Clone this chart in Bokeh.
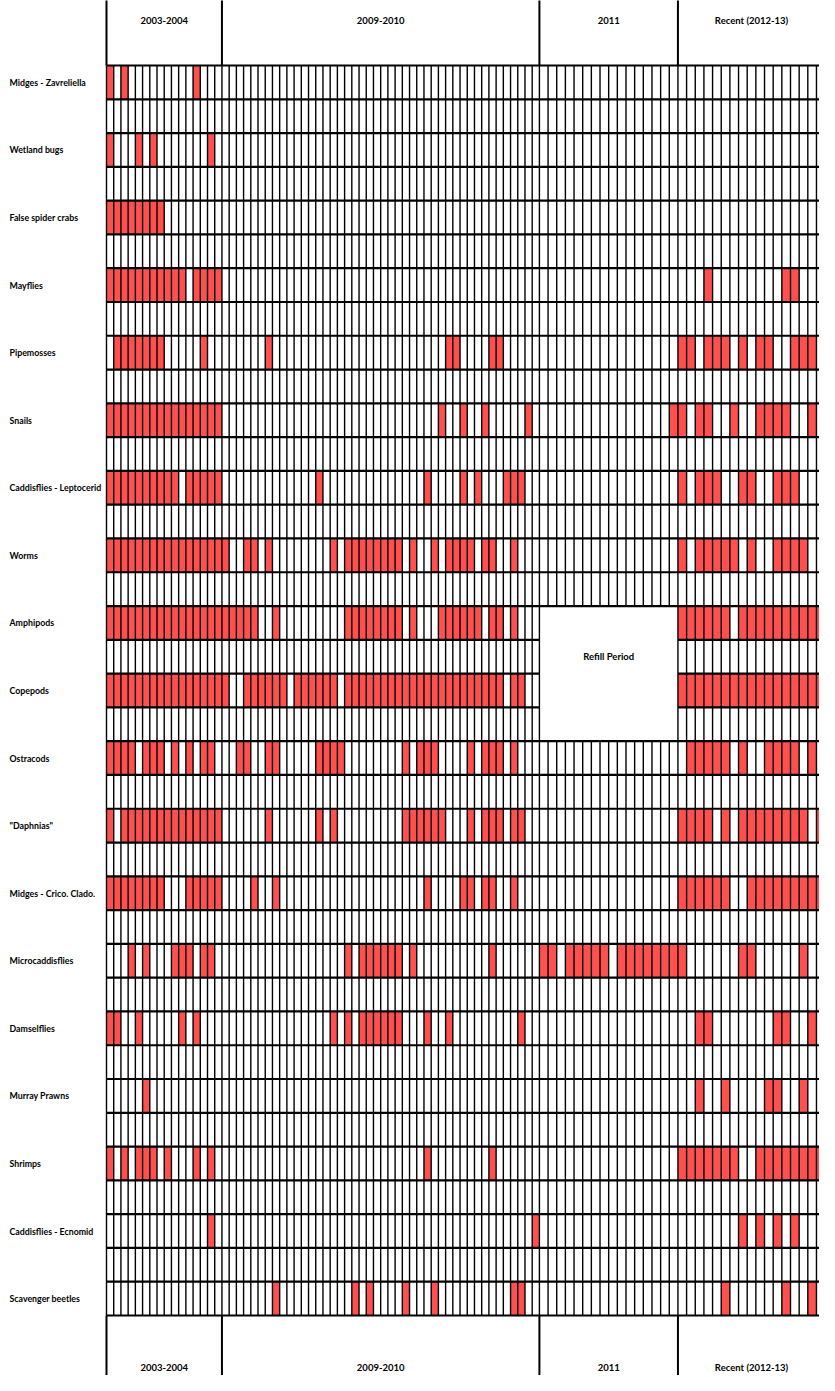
from bokeh.plotting import figure
from bokeh.models import Range1d
from bokeh.core.properties import value
from bokeh.embed import file_html
from bokeh.resources import INLINE

# ---------------- data ----------------
taxa = ["Midges - Zavreliella", "Wetland bugs", "False spider crabs", "Mayflies",
        "Pipemosses", "Snails", "Caddisflies - Leptocerid", "Worms", "Amphipods",
        "Copepods", "Ostracods", "\"Daphnias\"", "Midges - Crico. Clado.",
        "Microcaddisflies", "Damselflies", "Murray Prawns", "Shrimps",
        "Caddisflies - Ecnomid", "Scavenger beetles"]

periods = ["2003-2004", "2009-2010", "2011", "Recent (2012-13)"]
period_ncols = [16, 44, 16, 17]          # sampling columns per period
period_cell_w = [1.0, 1.0, 1.2, 1.2]     # relative column width per period

# detected (red) sampling columns, per taxon, index within each period
cells_2003_2004 = [
    [0, 2, 12],
    [0, 4, 6, 14],
    [0, 1, 2, 3, 4, 5, 6, 7],
    [0, 1, 2, 3, 4, 5, 6, 7, 8, 9, 10, 12, 13, 14, 15],
    [1, 2, 3, 4, 5, 6, 7, 13],
    [0, 1, 2, 3, 4, 5, 6, 7, 8, 9, 10, 11, 12, 13, 14, 15],
    [0, 1, 2, 3, 4, 5, 6, 7, 8, 9, 11, 12, 13, 14, 15],
    [0, 1, 2, 3, 4, 5, 6, 7, 8, 9, 10, 11, 12, 13, 14, 15],
    [0, 1, 2, 3, 4, 5, 6, 7, 8, 9, 10, 11, 12, 13, 14, 15],
    [0, 1, 2, 3, 4, 5, 6, 7, 8, 9, 10, 11, 12, 13, 14, 15],
    [0, 1, 2, 3, 5, 6, 7, 9, 11, 13, 14],
    [0, 2, 3, 4, 5, 6, 7, 8, 9, 10, 11, 12, 13, 14, 15],
    [0, 1, 2, 3, 4, 5, 6, 7, 11, 12, 13, 14, 15],
    [3, 5, 9, 10, 11, 13, 14],
    [0, 1, 4, 10, 12],
    [5],
    [0, 2, 4, 5, 6, 8, 12, 14],
    [14],
    [],
]

cells_2009_2010 = [
    [],
    [],
    [],
    [],
    [6, 31, 32, 37, 38],
    [30, 33, 36, 42],
    [13, 28, 33, 35, 39, 40, 41],
    [0, 3, 4, 6, 15, 17, 18, 19, 20, 21, 22, 23, 24, 26, 29, 31, 32, 33, 34, 36, 37, 40],
    [0, 1, 2, 3, 4, 7, 17, 18, 19, 20, 21, 22, 23, 24, 26, 30, 31, 32, 33, 34, 35, 37, 38, 40],
    [0, 3, 4, 5, 6, 7, 8, 10, 11, 12, 13, 14, 15, 17, 18, 19, 20, 21, 22, 23, 24, 25, 26,
     27, 28, 29, 30, 31, 32, 33, 34, 35, 36, 37, 38, 40, 41],
    [2, 3, 6, 7, 13, 14, 15, 16, 25, 27, 28, 29, 34, 36, 37, 38, 40],
    [6, 13, 15, 25, 26, 27, 28, 29, 30, 34, 36, 37, 38, 40, 41],
    [4, 7, 28, 33, 34, 36, 37, 40],
    [17, 19, 20, 21, 22, 23, 24, 26, 37],
    [15, 17, 19, 20, 21, 22, 23, 24, 28, 31, 41],
    [],
    [28, 37],
    [43],
    [7, 18, 20, 25, 29, 40, 41],
]

cells_2011 = [
    [], [], [], [], [],
    [15],
    [], [], [], [], [], [], [],
    [0, 1, 3, 4, 5, 6, 7, 9, 10, 11, 12, 13, 14, 15],
    [], [], [], [], [],
]

cells_recent = [
    [],
    [],
    [],
    [3, 12, 13],
    [0, 1, 3, 4, 5, 7, 9, 10, 13, 14, 15],
    [0, 2, 3, 6, 9, 10, 11, 12, 15],
    [0, 2, 3, 4, 7, 8, 11, 12, 13],
    [0, 2, 3, 4, 5, 6, 8, 11, 12, 13, 14],
    [0, 1, 2, 3, 4, 5, 7, 8, 9, 10, 11, 12, 13, 14, 15, 16],
    [0, 1, 2, 3, 4, 5, 6, 7, 8, 9, 10, 11, 12, 13, 14, 15, 16],
    [1, 2, 3, 4, 5, 7, 10, 11, 12, 13, 15],
    [0, 1, 2, 3, 5, 7, 8, 9, 10, 11, 12, 13, 14, 16],
    [0, 1, 2, 3, 4, 5, 8, 9, 10, 11, 12, 13, 14, 15, 16],
    [0, 7, 8, 14],
    [2, 3, 11, 12, 15],
    [2, 5, 10, 11, 14],
    [0, 1, 2, 3, 4, 5, 6, 9, 10, 11, 12, 13, 14, 15, 16],
    [7, 9, 11, 13],
    [5, 12, 15],
]

refill_label = "Refill Period"
refill_period = "2011"
refill_taxa = ["Amphipods", "Copepods"]

# ---------------- layout ----------------
W, H = 819, 1375
GRID_LEFT_PX = 106
GRID_TOP_PX = 65
ROW_PX = 1250 / 37
FOOT_PX = H - GRID_TOP_PX - 37 * ROW_PX
RED = "#FF5050"
FONT = value("Lato")
FS = "9.5px"
FS_TAXA = "8.8px"

period_start = []
acc = 0.0
for n, w in zip(period_ncols, period_cell_w):
    period_start.append(acc)
    acc += n * w
period_end = [s + n * w for s, n, w in zip(period_start, period_ncols, period_cell_w)]

x_end = period_start[3] + (period_ncols[3] - 0.65) * period_cell_w[3]
ppu = (W - GRID_LEFT_PX) / x_end
x_start = -GRID_LEFT_PX / ppu
n_rows = 2 * len(taxa) - 1
y_top = GRID_TOP_PX / ROW_PX
y_bot = -n_rows - FOOT_PX / ROW_PX

p = figure(width=W, height=H, x_range=Range1d(x_start, x_end), y_range=Range1d(y_bot, y_top),
           output_backend="svg", toolbar_location=None, min_border=0,
           x_axis_type=None, y_axis_type=None, outline_line_color=None,
           background_fill_color="white", border_fill_color="white")
p.grid.visible = False

# red cells
all_cells = [cells_2003_2004, cells_2009_2010, cells_2011, cells_recent]
L, R, T, B = [], [], [], []
for pi, cells in enumerate(all_cells):
    w = period_cell_w[pi]
    for t, cols in enumerate(cells):
        for c in cols:
            L.append(period_start[pi] + c * w)
            R.append(period_start[pi] + (c + 1) * w)
            T.append(-2 * t)
            B.append(-2 * t - 1)
p.quad(left=L, right=R, top=T, bottom=B, fill_color=RED, line_color=None)

# refill box extent (rows)
ri = periods.index(refill_period)
r_top = -2 * taxa.index(refill_taxa[0])
r_bot = -2 * taxa.index(refill_taxa[-1]) - 2
rx0, rx1 = period_start[ri], period_end[ri]

# vertical grid lines
vx0, vy0, vx1, vy1 = [], [], [], []
for pi in range(len(periods)):
    w = period_cell_w[pi]
    for c in range(period_ncols[pi] + (1 if pi == len(periods) - 1 else 0)):
        x = period_start[pi] + c * w
        if pi == ri and c > 0:
            vx0 += [x, x]; vx1 += [x, x]
            vy0 += [0, r_bot]; vy1 += [r_top, -n_rows]
        else:
            vx0.append(x); vx1.append(x); vy0.append(0); vy1.append(-n_rows)
p.segment(x0=vx0, y0=vy0, x1=vx1, y1=vy1, line_color="black", line_width=1.4)

# horizontal lines
hx0, hy0, hx1, hy1 = [], [], [], []
for k in range(n_rows + 1):
    y = -k
    if r_bot < y < r_top:
        hx0 += [0, rx1]; hx1 += [rx0, x_end + 1]; hy0 += [y, y]; hy1 += [y, y]
    else:
        hx0.append(0); hx1.append(x_end + 1); hy0.append(y); hy1.append(y)
p.segment(x0=hx0, y0=hy0, x1=hx1, y1=hy1, line_color="black", line_width=2.2)

# header / footer period separators
sx = period_start[:]
p.segment(x0=sx, y0=[0] * 4, x1=sx, y1=[y_top + 1] * 4, line_color="black", line_width=2)
p.segment(x0=sx, y0=[-n_rows] * 4, x1=sx, y1=[y_bot - 1] * 4, line_color="black", line_width=2)

# taxon labels
lab_x = x_start + 9 / ppu
p.text(x=[lab_x] * len(taxa), y=[-2 * t - 0.5 for t in range(len(taxa))], text=taxa,
       text_font=FONT, text_font_style="bold", text_font_size=FS_TAXA,
       text_align="left", text_baseline="middle", text_color="black")

# period labels (header and footer)
pc = [(s + e) / 2 for s, e in zip(period_start, period_end)]
head_y = y_top - 20 / ROW_PX
foot_y = -n_rows - 52 / ROW_PX
p.text(x=pc, y=[head_y] * 4, text=periods, text_font=FONT, text_font_style="bold",
       text_font_size=FS, text_align="center", text_baseline="middle")
p.text(x=pc, y=[foot_y] * 4, text=periods, text_font=FONT, text_font_style="bold",
       text_font_size=FS, text_align="center", text_baseline="middle")

# refill label
p.text(x=[(rx0 + rx1) / 2], y=[r_top - 1.5], text=[refill_label], text_font=FONT,
       text_font_style="bold", text_font_size=FS, text_align="center", text_baseline="middle")

open("out.html", "w").write(file_html(p, INLINE))
